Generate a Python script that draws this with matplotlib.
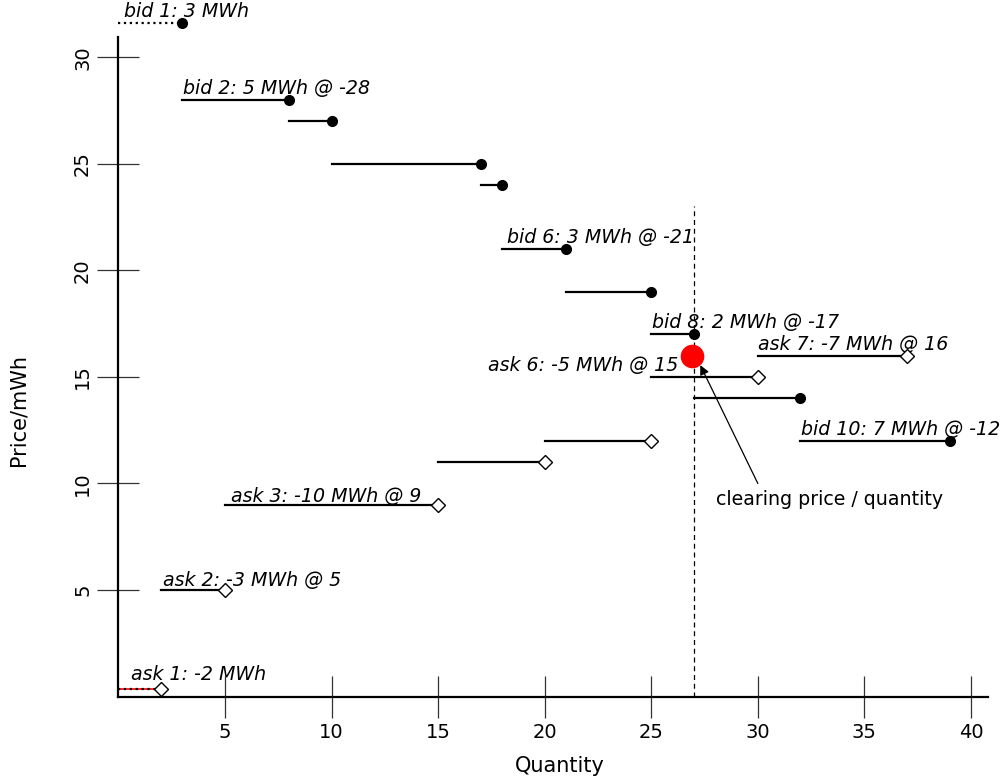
#!/usr/bin/env python3

import numpy as np
import matplotlib
matplotlib.use("Agg")
import matplotlib.pyplot as plt

# bids: block from start to end quantity at a price (filled dots)
bid_start = [0, 3, 8, 10, 17, 18, 21, 25, 27, 32]
bid_end = [3, 8, 10, 17, 18, 21, 25, 27, 32, 39]
bid_price = [31.6, 28, 27, 25, 24, 21, 19, 17, 14, 12]
bid_labels = {0: "bid 1: 3 MWh", 1: "bid 2: 5 MWh @ -28", 5: "bid 6: 3 MWh @ -21",
              7: "bid 8: 2 MWh @ -17", 9: "bid 10: 7 MWh @ -12"}

# asks (open diamonds)
ask_start = [0, 2, 5, 15, 20, 25, 30]
ask_end = [2, 5, 15, 20, 25, 30, 37]
ask_price = [0.35, 5, 9, 11, 12, 15, 16]
ask_labels = {0: "ask 1: -2 MWh", 1: "ask 2: -3 MWh @ 5", 2: "ask 3: -10 MWh @ 9",
              5: "ask 6: -5 MWh @ 15", 6: "ask 7: -7 MWh @ 16"}

clear_q = 27
clear_p = 16


def main():
    fig = plt.figure(figsize=(10.08, 7.83), dpi=100)
    ax = fig.add_axes([0.1175, 0.1103, 0.8627, 0.8425])
    ax.set_xlim(0, 40.8)
    ax.set_ylim(0, 30.95)

    for spine in ["top", "right"]:
        ax.spines[spine].set_visible(False)
    for spine in ["left", "bottom"]:
        ax.spines[spine].set_linewidth(1.6)

    lab_kw = dict(fontsize=13.7, style="italic")

    for i, (x0, x1, p) in enumerate(zip(bid_start, bid_end, bid_price)):
        if i == 0:
            ax.plot([x0, x1], [p, p], color="black", lw=1.6, ls=":", clip_on=False)
        else:
            ax.plot([x0, x1], [p, p], color="black", lw=1.6, clip_on=False)
        ax.plot(x1, p, "o", color="black", ms=7, clip_on=False, zorder=4)
        if i in bid_labels:
            dx = 0.25 if i in (0, 5) else 0.02
            ax.text(x0 + dx, p + 0.28, bid_labels[i], **lab_kw)

    for i, (x0, x1, p) in enumerate(zip(ask_start, ask_end, ask_price)):
        if i == 0:
            ax.plot([x0, x1], [p, p], color="red", lw=1.2, clip_on=False)
            ax.plot([x0, x1], [p, p], color="black", lw=1.6, ls=":", clip_on=False)
        else:
            ax.plot([x0, x1], [p, p], color="black", lw=1.6, clip_on=False)
        ax.plot(x1, p, "D", mfc="white", mec="black", ms=7, mew=1, clip_on=False, zorder=4)
        if i == 5:
            ax.text(26.25, p + 0.3, ask_labels[i], ha="right", **lab_kw)
        elif i in ask_labels:
            dx = {0: 0.6, 1: 0.1, 2: 0.3}.get(i, 0.02)
            dy = {0: 0.42, 1: 0.18, 2: 0.15}.get(i, 0.28)
            ax.text(x0 + dx, p + dy, ask_labels[i], **lab_kw)

    ax.plot([clear_q, clear_q], [0, 23], color="black", lw=0.9, ls=(0, (4, 3)))
    ax.plot(clear_q - 0.1, clear_p, "o", color="red", ms=16, zorder=5)

    ax.annotate("", xy=(clear_q + 0.3, clear_p - 0.45), xytext=(30, 10),
                arrowprops=dict(arrowstyle="-|>", color="black", lw=0.9,
                                shrinkA=0, shrinkB=0, mutation_scale=14))
    ax.text(28.05, 9.0, "clearing price / quantity", fontsize=13.7)

    ax.set_xticks(np.arange(5, 41, 5))
    ax.set_yticks(np.arange(5, 31, 5))
    ax.tick_params(direction="inout", length=30, width=0.9, color="#333333",
                   labelsize=14, pad=4)
    for lab in ax.get_yticklabels():
        lab.set_rotation(90)
        lab.set_va("center")

    ax.set_xlabel("Quantity", fontsize=15)
    ax.set_ylabel("Price/mWh", fontsize=15)
    ax.xaxis.set_label_coords(0.508, -0.09)
    ax.yaxis.set_label_coords(-0.104, 0.435)

    fig.savefig("out.png", dpi=100)


if __name__ == "__main__":
    main()
